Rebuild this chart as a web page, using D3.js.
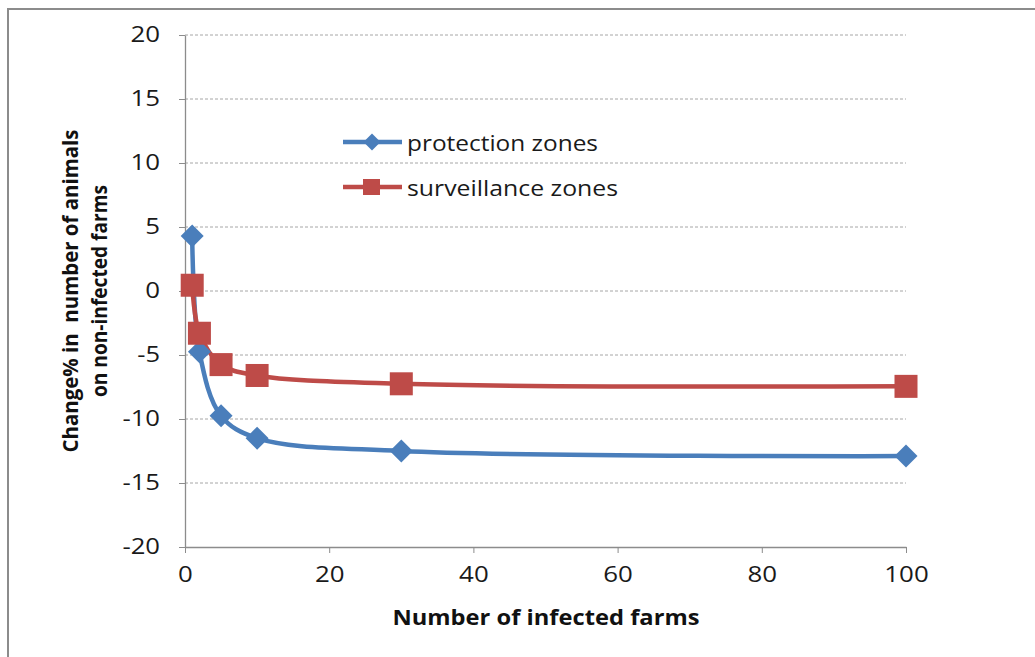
<!DOCTYPE html>
<html><head><meta charset="utf-8">
<script src="https://cdn.jsdelivr.net/npm/d3@7"></script>
<style>body{margin:0;background:#fff;}svg{display:block;font-family:"Open Sans",sans-serif;}</style>
</head><body>
<svg id="c" width="1035" height="657"></svg>
<script>
const farms = [1, 2, 5, 10, 30, 100];
const protection = [4.3, -4.75, -9.75, -11.5, -12.5, -12.9];
const surveillance = [0.45, -3.3, -5.75, -6.6, -7.25, -7.45];
const xTicks = [0, 20, 40, 60, 80, 100];
const yTicks = [-20, -15, -10, -5, 0, 5, 10, 15, 20];
const seriesNames = ["protection zones", "surveillance zones"];

const FONT = "'Open Sans', sans-serif";
const svg = d3.select("#c");
svg.append("rect").attr("x", 8).attr("y", 9).attr("width", 1040).attr("height", 660)
  .attr("fill", "#fff").attr("stroke", "#8c8c8c").attr("stroke-width", 2);

const x = d3.scaleLinear().domain([0, 100]).range([185, 906]);
const y = d3.scaleLinear().domain([-20, 20]).range([547, 35]);

// gridlines
svg.append("g").selectAll("line").data(yTicks.filter(d => d > -20)).join("line")
  .attr("x1", x(0)).attr("x2", x(100)).attr("y1", d => y(d)).attr("y2", d => y(d))
  .attr("stroke", "#a6a6a6").attr("stroke-width", 1).attr("stroke-dasharray", "3,2");

const fmt = d => String(d);
const labelLen = s => s.replace("-", "").length * 14.8 + (s.startsWith("-") ? 8 : 0);

const yAxis = svg.append("g").attr("transform", `translate(${x(0)},0)`)
  .call(d3.axisLeft(y).tickValues(yTicks).tickFormat(fmt).tickSize(6).tickSizeOuter(0).tickPadding(19));
const xAxis = svg.append("g").attr("transform", `translate(0,${y(-20)})`)
  .call(d3.axisBottom(x).tickValues(xTicks).tickFormat(fmt).tickSize(6).tickSizeOuter(0).tickPadding(14));
[yAxis, xAxis].forEach(a => {
  a.select(".domain").attr("stroke", "#8c8c8c").attr("stroke-width", 1.3);
  a.selectAll(".tick line").attr("stroke", "#8c8c8c");
  a.selectAll(".tick text").attr("font-size", 21).attr("fill", "#1a1a1a").attr("font-family", FONT)
    .attr("textLength", d => labelLen(fmt(d))).attr("lengthAdjust", "spacingAndGlyphs");
});

// axis titles
svg.append("text").attr("x", 546).attr("y", 625).attr("text-anchor", "middle")
  .attr("font-size", 22).attr("font-weight", "bold").attr("fill", "#111")
  .attr("textLength", 307).attr("lengthAdjust", "spacingAndGlyphs").text("Number of infected farms");
const yt = svg.append("text").attr("transform", "translate(78,291) rotate(-90)")
  .attr("text-anchor", "middle").attr("font-size", 22).attr("font-weight", "bold").attr("fill", "#111");
yt.append("tspan").attr("x", 0).attr("y", 0).attr("xml:space", "preserve")
  .attr("textLength", 323).attr("lengthAdjust", "spacingAndGlyphs").text("Change% in  number of animals");
yt.append("tspan").attr("x", 0).attr("y", 29)
  .attr("textLength", 212).attr("lengthAdjust", "spacingAndGlyphs").text("on non-infected farms");

const colors = ["#4a7ebb", "#be4b48"];
const curve = d3.curveCatmullRom.alpha(0.5);
const line = d3.line().x(d => x(d[0])).y(d => y(d[1])).curve(curve);
const dataSets = [protection, surveillance].map(v => farms.map((f, i) => [f, v[i]]));

dataSets.forEach((ds, k) => {
  svg.append("path").datum(ds).attr("d", line).attr("fill", "none")
    .attr("stroke", colors[k]).attr("stroke-width", 4.5).attr("stroke-linejoin", "round");
});
// markers
const diamond = s => `M0,${-s}L${s},0L0,${s}L${-s},0Z`;
svg.append("g").selectAll("path").data(dataSets[0]).join("path")
  .attr("transform", d => `translate(${x(d[0])},${y(d[1])})`)
  .attr("d", diamond(11.5)).attr("fill", colors[0]);
svg.append("g").selectAll("rect").data(dataSets[1]).join("rect")
  .attr("x", d => x(d[0]) - 11.5).attr("y", d => y(d[1]) - 11.5)
  .attr("width", 23).attr("height", 23).attr("fill", colors[1]);

// legend
const legendWidths = [191, 211];
const lg = svg.append("g");
seriesNames.forEach((name, k) => {
  const ly = 142 + k * 45;
  lg.append("line").attr("x1", 343).attr("x2", 402).attr("y1", ly).attr("y2", ly)
    .attr("stroke", colors[k]).attr("stroke-width", 4.5);
  if (k === 0) lg.append("path").attr("transform", `translate(372,${ly})`).attr("d", diamond(8.5)).attr("fill", colors[0]);
  else lg.append("rect").attr("x", 363).attr("y", ly - 8).attr("width", 17).attr("height", 16).attr("fill", colors[1]);
  lg.append("text").attr("x", 407).attr("y", ly + 9).attr("font-size", 22).attr("fill", "#1a1a1a")
    .attr("textLength", legendWidths[k]).attr("lengthAdjust", "spacingAndGlyphs").text(name);
});
</script>
</body></html>
